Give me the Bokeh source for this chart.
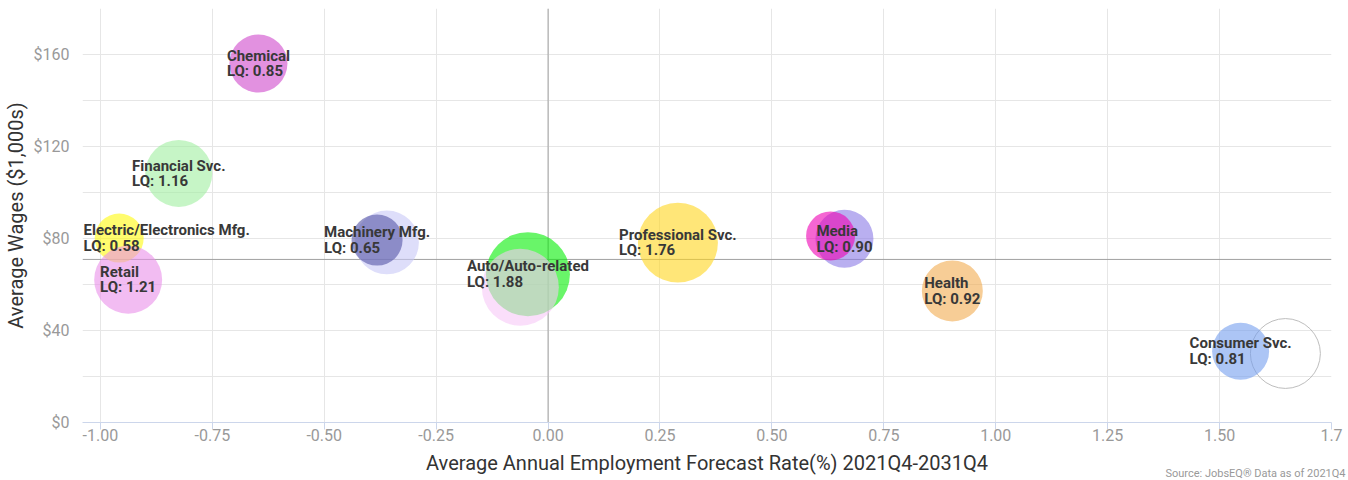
from bokeh.plotting import figure
from bokeh.models import (ColumnDataSource, FixedTicker, NumeralTickFormatter,
                          Span, Title, Range1d)
from bokeh.embed import file_html
from bokeh.resources import INLINE
from bokeh.core.properties import value
import math

# ---------------- data ----------------
industries = ["Chemical", "Financial Svc.", "Electric/Electronics Mfg.", "Retail",
              None, "Machinery Mfg.", "Auto/Auto-related", None,
              "Professional Svc.", "Media", None, "Health", None, "Consumer Svc."]
forecast_rate = [-0.647, -0.825, -0.958, -0.938, -0.360, -0.382, -0.045, -0.062,
                 0.290, 0.662, 0.631, 0.903, 1.647, 1.547]
avg_wage = [156.1, 108.3, 80.2, 62.1, 78.3, 79.3, 64.5, 58.8,
            78.2, 79.9, 81.1, 57.2, 30.0, 31.0]
bubble_z = [47.7, 63.6, 34.0, 65.5, 58.0, 36.9, 100.0, 84.0,
            90.7, 47.7, 34.0, 52.7, 69.4, 46.0]
lq = [0.85, 1.16, 0.58, 1.21, None, 0.65, 1.88, None,
      1.76, 0.90, None, 0.92, None, 0.81]
colors = ["#cf48cb", "#a0eea0", "#fffa0d", "#e98fe9", "#c8c8f7", "#5555a7",
          "#05ee05", "#f7c8f7", "#ffd51e", "#8a7ae6", "#ee00b4", "#f2ac50",
          "#ffffff", "#759fee"]

x_ticks = [-1.0, -0.75, -0.5, -0.25, 0.0, 0.25, 0.5, 0.75, 1.0, 1.25, 1.5, 1.75]
x_tick_overrides = {1.75: "1.7"}
y_ticks = [0, 40, 80, 120, 160]
y_minor = [20, 60, 100, 140, 180]
avg_rate_line = 0.0
avg_wage_line = 70.9
source_text = "Source: JobsEQ\u00ae Data as of 2021Q4"

# ---------------- layout ----------------
W, H = 1348, 480
X_MIN, X_MAX = -1.04, 1.75
Y_MIN, Y_MAX = 0, 180
BL, BR, BT, BB = 82, 17, 8, 58
FRAME_W = W - BL - BR
MAX_D = 84.0
FONT = "Roboto"

p = figure(width=W, height=H, x_range=Range1d(X_MIN, X_MAX), y_range=Range1d(Y_MIN, Y_MAX),
           output_backend="svg", toolbar_location=None,
           min_border_left=BL, min_border_right=BR, min_border_top=BT, min_border_bottom=BB)
p.outline_line_color = None
p.background_fill_color = "white"
p.border_fill_color = "white"

xa = p.xaxis[0]
xa.ticker = FixedTicker(ticks=x_ticks)
xa.formatter = NumeralTickFormatter(format="0.00")
xa.major_label_overrides = x_tick_overrides
xa.axis_line_color = "#ccd6eb"
xa.major_tick_line_color = "#ccd6eb"
xa.major_tick_in = 0
xa.major_tick_out = 7
xa.minor_tick_line_color = None
xa.major_label_text_font = FONT
xa.major_label_text_font_size = "16px"
xa.major_label_text_color = "#999999"
xa.major_label_standoff = -1
xa.axis_label = "Average Annual Employment Forecast Rate(%) 2021Q4-2031Q4"
xa.axis_label_text_font = FONT
xa.axis_label_text_font_size = "20px"
xa.axis_label_text_font_style = "normal"
xa.axis_label_text_color = "#333333"
xa.axis_label_standoff = 7

ya = p.yaxis[0]
ya.ticker = FixedTicker(ticks=y_ticks, minor_ticks=y_minor)
ya.formatter = NumeralTickFormatter(format="$0")
ya.axis_line_color = None
ya.major_tick_line_color = None
ya.minor_tick_line_color = None
ya.major_tick_in = 0
ya.major_tick_out = 0
ya.major_label_text_font = FONT
ya.major_label_text_font_size = "16px"
ya.major_label_text_color = "#999999"
ya.major_label_standoff = 9
ya.axis_label = "Average Wages ($1,000s)"
ya.axis_label_text_font = FONT
ya.axis_label_text_font_size = "20px"
ya.axis_label_text_font_style = "normal"
ya.axis_label_text_color = "#333333"
ya.axis_label_standoff = 3

p.xgrid.grid_line_color = "#e6e6e6"
p.ygrid.grid_line_color = "#e6e6e6"
p.ygrid.minor_grid_line_color = "#e6e6e6"

p.add_layout(Span(location=avg_rate_line, dimension="height", line_color="#a0a0a0",
                  line_width=1, level="underlay"))
p.add_layout(Span(location=avg_wage_line, dimension="width", line_color="#a0a0a0",
                  line_width=1, level="underlay"))

# ---------------- bubbles ----------------
diam = [MAX_D * math.sqrt(z / 100.0) for z in bubble_z]
fill_alpha = [0.0 if c == "#ffffff" else 0.6 for c in colors]
line_col = ["#bdbdbd" if c == "#ffffff" else c for c in colors]
line_alpha = [1.0 if c == "#ffffff" else 0.0 for c in colors]
src = ColumnDataSource(dict(x=forecast_rate, y=avg_wage, d=diam, fc=colors, fa=fill_alpha,
                            lc=line_col, la=line_alpha))
p.scatter("x", "y", size="d", marker="circle", source=src, fill_color="fc", fill_alpha="fa",
          line_color="lc", line_alpha="la", line_width=1)

# ---------------- data labels ----------------
def px_of(x):
    return BL + (x - X_MIN) / (X_MAX - X_MIN) * FRAME_W

c_x, c_y, c_t, l_x, l_y, l_t = [], [], [], [], [], []
for name, x, y, q in zip(industries, forecast_rate, avg_wage, lq):
    if name is None:
        continue
    txt = f"{name}\nLQ: {q:.2f}"
    est_w = max(len(s) for s in txt.split("\n")) * 6.8
    if px_of(x) - est_w / 2 < BL:
        l_x.append(X_MIN); l_y.append(y); l_t.append(txt)
    else:
        c_x.append(x); c_y.append(y); c_t.append(txt)

lab_style = dict(text_font=value(FONT), text_font_size="15px", text_font_style="bold",
                 text_color="#383838", text_align="left", text_line_height=0.87)
p.text(x=c_x, y=c_y, text=c_t, anchor="center", **lab_style)
p.text(x=l_x, y=l_y, text=l_t, anchor="center_left", x_offset=1, **lab_style)

# ---------------- credits ----------------
p.add_layout(Title(text=source_text, align="right", vertical_align="top", offset=-14,
                   standoff=-22, text_font=FONT, text_font_size="11px",
                   text_font_style="normal", text_color="#999999"), "below")

open("out.html", "w").write(file_html(p, INLINE))
